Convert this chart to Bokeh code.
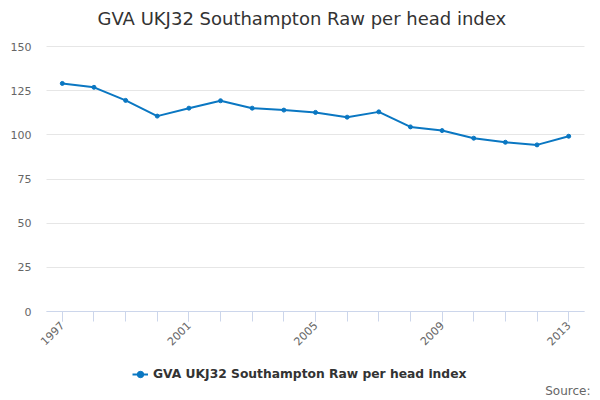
from math import pi
from bokeh.plotting import figure
from bokeh.models import FixedTicker, Legend, LegendItem, Range1d, Label
from bokeh.embed import file_html
from bokeh.resources import INLINE

years = [1997, 1998, 1999, 2000, 2001, 2002, 2003, 2004, 2005, 2006,
         2007, 2008, 2009, 2010, 2011, 2012, 2013]
values = [129.1, 126.9, 119.5, 110.6, 115.1, 119.3, 115.1, 114.0, 112.7, 110.0,
          113.0, 104.5, 102.4, 98.1, 95.8, 94.3, 99.2]
x_tick_labels = [1997, 2001, 2005, 2009, 2013]
y_ticks = [0, 25, 50, 75, 100, 125, 150]
series_name = "GVA UKJ32 Southampton Raw per head index"
title_text = "GVA UKJ32 Southampton Raw per head index"
source_text = "Source:"

FONT = "DejaVu Sans"
COLOR = "#0a77c2"

# The frame spans the whole figure so that title, legend, source and tick
# labels can sit inside it; the chart proper occupies x 46..584, y 46..311.
W, H = 600, 400
PLOT_L, PLOT_R = 46, 584
PLOT_T, PLOT_B = 46, 311
X0, X1 = 1996.5, 2013.5
Y0, Y1 = 0, 150

ppx = (PLOT_R - PLOT_L) / (X1 - X0)
ppy = (PLOT_B - PLOT_T) / (Y1 - Y0)

p = figure(width=W, height=H, output_backend="svg", toolbar_location=None,
           x_range=Range1d(X0 - PLOT_L / ppx, X1 + (W - PLOT_R) / ppx),
           y_range=Range1d(Y0 - (H - PLOT_B) / ppy, Y1 + PLOT_T / ppy),
           min_border_left=0, min_border_right=0, min_border_top=0,
           min_border_bottom=0)
p.outline_line_color = None
p.background_fill_color = "white"
p.border_fill_color = "white"

line = p.line(years, values, line_color=COLOR, line_width=2)
pts = p.scatter(years, values, size=4, fill_color=COLOR, line_color=COLOR)

# axes
xa = p.xaxis[0]
xa.fixed_location = Y0
xa.bounds = (X0, X1)
xa.ticker = FixedTicker(ticks=x_tick_labels, minor_ticks=years)
xa.axis_line_color = "#ccd6eb"
xa.major_tick_line_color = "#ccd6eb"
xa.minor_tick_line_color = "#ccd6eb"
xa.major_tick_out = 10
xa.major_tick_in = 0
xa.minor_tick_out = 10
xa.minor_tick_in = 0
xa.major_label_orientation = pi / 4
xa.major_label_text_font = FONT
xa.major_label_text_font_size = "11px"
xa.major_label_text_color = "#666666"
xa.major_label_standoff = 2

ya = p.yaxis[0]
ya.fixed_location = X0
ya.bounds = (Y0, Y1)
ya.ticker = FixedTicker(ticks=y_ticks)
ya.axis_line_color = None
ya.major_tick_line_color = None
ya.minor_tick_line_color = None
ya.major_tick_out = 0
ya.major_tick_in = 0
ya.minor_tick_out = 0
ya.minor_tick_in = 0
ya.major_label_text_font = FONT
ya.major_label_text_font_size = "11px"
ya.major_label_text_color = "#666666"
ya.major_label_standoff = 15

p.xgrid.grid_line_color = None
p.ygrid.grid_line_color = "#e6e6e6"
p.ygrid.ticker = FixedTicker(ticks=y_ticks)
p.ygrid.bounds = (Y0, Y1)
p.ygrid.cross_bounds = (X0, X1)

# title (screen units measured from the frame's bottom-left corner)
p.add_layout(Label(x=97, y=H - 18, x_units="screen", y_units="screen",
                   text=title_text, text_align="left", text_baseline="middle",
                   text_font=FONT, text_font_size="18px", text_color="#333333"))

# source
p.add_layout(Label(x=590, y=H - 390, x_units="screen", y_units="screen",
                   text=source_text, text_align="right", text_baseline="middle",
                   text_font=FONT, text_font_size="12px", text_color="#666666"))

legend = Legend(items=[LegendItem(label=series_name, renderers=[line, pts])],
                location=(132, H - 382), orientation="horizontal",
                border_line_color=None, background_fill_alpha=0,
                label_text_font=FONT, label_text_font_size="12.3px",
                label_text_font_style="bold", label_text_color="#333333",
                glyph_width=16, glyph_height=16, label_standoff=5,
                padding=0, margin=0, spacing=0, label_height=16)
p.add_layout(legend, "center")

open("out.html", "w").write(file_html(p, INLINE))
